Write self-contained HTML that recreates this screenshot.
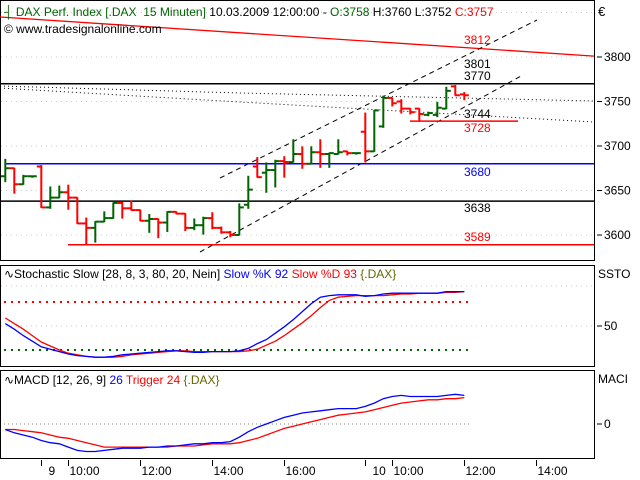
<!DOCTYPE html>
<html><head><meta charset="utf-8"><style>
html,body{margin:0;padding:0;background:#fff;}
svg{display:block;font-family:"Liberation Sans",Arial,sans-serif;font-size:12px;}
</style></head><body>
<svg id="c" width="640" height="480" viewBox="0 0 640 480" xmlns="http://www.w3.org/2000/svg">
<rect x="0" y="0" width="640" height="480" fill="#fff"/>
<g id="main"></g>
<g id="stoch"></g>
<g id="macd"></g>
<g id="axis"></g>
</svg>
<script>
const opens=[3666,3675,3657,3666,3677,3631,3642,3648,3642,3613,3608,3615,3619,3636,3630,3628,3616,3618,3614,3626,3624,3608,3611,3619,3608,3603,3600,3634,3677,3670,3673,3683,3682,3691,3680,3693,3691,3691,3694,3692,3716,3694,3722,3754,3750,3742,3742,3735,3735,3742,3767,3758];
const highs=[3685,3675,3667,3666,3678,3654,3655,3656,3642,3619,3615,3626,3636,3637,3638,3628,3623,3618,3626,3626,3624,3618,3620,3625,3609,3604,3635,3666,3687,3681,3684,3688,3707,3699,3699,3707,3692,3707,3694,3692,3737,3740,3756,3754,3752,3742,3742,3738,3749,3766,3768,3760];
const lows=[3660,3647,3657,3666,3631,3630,3642,3629,3613,3590,3592,3615,3619,3619,3628,3616,3603,3597,3604,3624,3605,3606,3601,3607,3602,3598,3600,3630,3665,3648,3654,3665,3682,3675,3680,3676,3676,3691,3690,3692,3682,3694,3721,3745,3737,3736,3728,3734,3733,3742,3757,3752];
const closes=[3675,3657,3666,3666,3631,3642,3648,3642,3613,3608,3615,3619,3636,3630,3628,3616,3618,3614,3626,3624,3608,3611,3619,3608,3603,3600,3631,3651,3665,3673,3683,3682,3691,3680,3693,3691,3692,3693,3692,3692,3694,3740,3754,3748,3742,3738,3736,3737,3743,3762,3757,3757];
const stochK=[53,46,38,31,24,21,18,15,13,12,11,11,12,14,15,16,17,18,19,19,18,17,17,18,18,18,19,22,28,33,41,49,58,68,78,86,88,89,89,89,87,88,90,91,91,91,91,91,91,93,93,93];
const stochD=[60,53,46,38,30,25,20,16,14,12,11,11,11,12,14,15,16,17,18,19,19,18,18,18,18,18,18,19,21,26,31,38,46,54,63,73,82,86,87,88,88,88,88,89,90,90,91,91,91,92,92,93];
const macdV=[-5,-8,-10,-12,-15,-17,-18,-21,-24,-25,-25,-24,-23,-22,-22,-22,-21,-21,-20,-20,-19,-18,-18,-17,-17,-16,-12,-7,-3,0,3,6,8,10,11,12,13,14,14,14,16,19,23,25,26,25,25,25,25,26,27,26];
const trigV=[-5,-5,-6,-7,-8,-10,-12,-13,-15,-17,-19,-21,-21,-21,-21,-21,-21,-21,-21,-20,-20,-20,-19,-18,-18,-18,-17,-15,-13,-10,-7,-4,-2,0,2,4,6,8,9,10,11,13,15,17,19,20,21,22,22,23,23,24];
const priceTicks=[3800,3750,3700,3650,3600];
const levelPrices=[3770,3728,3680,3638,3589];
const levelLabels=[["3812",3812,"#f00"],["3801",3801,"#000"],["3770",3770,"#000"],["3744",3744,"#000"],["3728",3728,"#f00"],["3680",3680,"#00f"],["3638",3638,"#000"],["3589",3589,"#f00"]];
const timeLabels=["9","10:00","12:00","14:00","16:00","10","10:00","12:00","14:00"];
const timeSlots=[4,7,15,23,31,40,43,51,59];

const NS="http://www.w3.org/2000/svg";
const X=i=>5.3+9*i;
const Y=p=>57+(3800-p)*0.89;
const YS=v=>366-0.8*v;
const YM=v=>424-1.1*v;
function mk(parent,tag,attrs,text){const e=document.createElementNS(NS,tag);for(const k in attrs)e.setAttribute(k,attrs[k]);if(text!==undefined)e.textContent=text;parent.appendChild(e);return e;}
const main=document.getElementById('main'),st=document.getElementById('stoch'),mc=document.getElementById('macd'),ax=document.getElementById('axis');

let e;
e=mk(main,'rect',{x:0.5,y:0.5,width:594,height:260,fill:'none',stroke:'#000'});


[3850,3800,3750,3700,3650,3600].forEach(p=>{mk(main,'line',{x1:1,x2:594,y1:Y(p),y2:Y(p),stroke:'#ccc','stroke-dasharray':'1,4'});});
priceTicks.forEach(p=>{
 mk(main,'line',{x1:597,x2:602,y1:Y(p),y2:Y(p),stroke:'#000'});
 e=mk(main,'text',{x:604,y:Y(p)+4,fill:'#000'},String(p));
 
 
});
e=mk(main,'text',{x:598,y:16,fill:'#000','font-size':'13'},'€');


e=mk(main,'line',{x1:0,y1:17,x2:594,y2:Y(3801),stroke:'#f00','stroke-width':1.3});


e=mk(main,'polyline',{points:'0,86 240,93 594,101',fill:'none',stroke:'#000','stroke-dasharray':'1,3'});


e=mk(main,'polyline',{points:'0,88 240,102 594,122',fill:'none',stroke:'#000','stroke-dasharray':'1,3'});


e=mk(main,'line',{x1:220,y1:178,x2:537,y2:20,stroke:'#000','stroke-dasharray':'5,4'});


e=mk(main,'line',{x1:200,y1:252,x2:523,y2:75,stroke:'#000','stroke-dasharray':'5,4'});


const lvl=[[0,594,'#000'],[410,518,'#f00'],[5,594,'#00f'],[0,594,'#000'],[68,594,'#f00']];
levelPrices.forEach((p,i)=>{e=mk(main,'line',{x1:lvl[i][0],x2:lvl[i][1],y1:Y(p),y2:Y(p),stroke:lvl[i][2],'stroke-width':1.5});
 
 });
const lblY=[44,68,80,118,132,176,212,241];
levelLabels.forEach((l,i)=>{e=mk(main,'text',{x:464,y:lblY[i],fill:l[2]},l[0]);
 
 });
opens.forEach((o,i)=>{
 const c=closes[i],col=c<o?'#f00':'#006400',x=X(i);
 const g=mk(main,'g',{stroke:col,'stroke-width':2});
 
 
 const hy=Y(highs[i]),ly=Y(lows[i]);
 mk(g,'line',{x1:x,x2:x,y1:hy-0.5,y2:Math.max(ly,hy+1)+0.5});
 mk(g,'line',{x1:x-4.5,x2:x,y1:Y(o),y2:Y(o)});
 mk(g,'line',{x1:x,x2:x+4.5,y1:Y(c),y2:Y(c)});
});
e=mk(main,'text',{x:4,y:16},'');


e.innerHTML='<tspan fill="#006400">┤ DAX Perf. Index [.DAX&#160; 15 Minuten]</tspan><tspan fill="#000"> 10.03.2009 12:00:00 - </tspan><tspan fill="#006400">O:3758</tspan><tspan fill="#000"> H:3760 L:3752 </tspan><tspan fill="#f00">C:3757</tspan>';
e=mk(main,'text',{x:4,y:33,fill:'#000'},'© www.tradesignalonline.com');



e=mk(st,'rect',{x:0.5,y:265.5,width:594,height:101,fill:'none',stroke:'#000'});


mk(st,'line',{x1:1,x2:594,y1:YS(100),y2:YS(100),stroke:'#ccc','stroke-dasharray':'1,4'});
mk(st,'line',{x1:1,x2:594,y1:YS(50),y2:YS(50),stroke:'#ccc','stroke-dasharray':'1,4'});
mk(st,'line',{x1:4,x2:470,y1:YS(80),y2:YS(80),stroke:'#f00','stroke-width':2,'stroke-dasharray':'2,5'});
mk(st,'line',{x1:4,x2:470,y1:YS(20),y2:YS(20),stroke:'#006400','stroke-width':2,'stroke-dasharray':'2,5'});
mk(st,'line',{x1:597,x2:602,y1:YS(50),y2:YS(50),stroke:'#000'});
mk(st,'text',{x:604,y:YS(50)+4},'50');
e=mk(st,'text',{x:598,y:278},'SSTO');


e=mk(st,'polyline',{points:stochD.map((v,i)=>X(i)+','+YS(v)).join(' '),fill:'none',stroke:'#f00','stroke-width':1.3});


e=mk(st,'polyline',{points:stochK.map((v,i)=>X(i)+','+YS(v)).join(' '),fill:'none',stroke:'#00f','stroke-width':1.3});


e=mk(st,'text',{x:4,y:278},'');


e.innerHTML='<tspan fill="#000">∿Stochastic Slow [28, 8, 3, 80, 20, Nein] </tspan><tspan fill="#00f">Slow %K 92 </tspan><tspan fill="#f00">Slow %D 93 </tspan><tspan fill="#660">{.DAX}</tspan>';

e=mk(mc,'rect',{x:0.5,y:370.5,width:594,height:88,fill:'none',stroke:'#000'});


mk(mc,'line',{x1:4,x2:470,y1:YM(0),y2:YM(0),stroke:'#888','stroke-dasharray':'1,3'});
mk(mc,'line',{x1:597,x2:602,y1:YM(0),y2:YM(0),stroke:'#000'});
mk(mc,'text',{x:604,y:YM(0)+4},'0');
e=mk(mc,'text',{x:598,y:383},'MACI');


e=mk(mc,'polyline',{points:trigV.map((v,i)=>X(i)+','+YM(v)).join(' '),fill:'none',stroke:'#f00','stroke-width':1.3});


e=mk(mc,'polyline',{points:macdV.map((v,i)=>X(i)+','+YM(v)).join(' '),fill:'none',stroke:'#00f','stroke-width':1.3});


e=mk(mc,'text',{x:4,y:384},'');


e.innerHTML='<tspan fill="#000">∿MACD [12, 26, 9] </tspan><tspan fill="#00f">26 </tspan><tspan fill="#f00">Trigger 24 </tspan><tspan fill="#660">{.DAX}</tspan>';

timeLabels.forEach((t,i)=>{
 const x=Math.round(X(timeSlots[i]))+0.5;
 mk(ax,'line',{x1:x,x2:x,y1:460,y2:466,stroke:'#000'});
 e=mk(ax,'text',{x:x+(t.length<3?7:1),y:475},t);
 
 
});
</script>
</body></html>
